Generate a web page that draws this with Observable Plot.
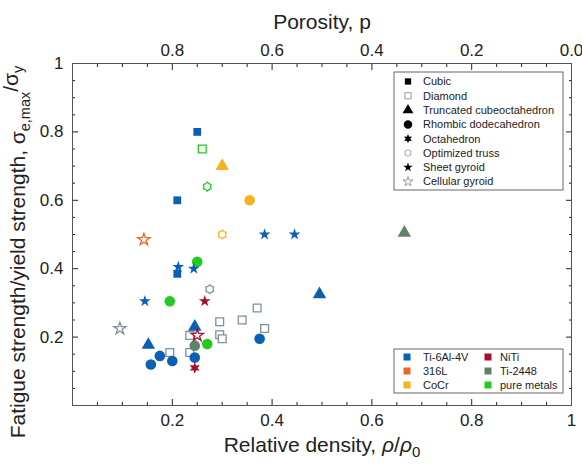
<!DOCTYPE html>
<html><head><meta charset="utf-8">
<script src="https://cdn.jsdelivr.net/npm/d3@7"></script>
<script src="https://cdn.jsdelivr.net/npm/@observablehq/plot@0.6"></script>
<style>body{margin:0;background:#fff;} #chart svg{font-family:"Liberation Sans",Arial,sans-serif;}</style>
</head><body><div id="chart"></div>
<script>
// ---- data ----
const structures = ["Cubic","Diamond","Truncated cubeoctahedron","Rhombic dodecahedron","Octahedron","Optimized truss","Sheet gyroid","Cellular gyroid"];
const materials = ["Ti-6Al-4V","316L","CoCr","NiTi","Ti-2448","pure metals"];
const materialColors = ["#0b5fb5","#e5682a","#f6b21c","#a5102d","#5f8466","#1fcc1f"];
const xMajor = [0.2,0.4,0.6,0.8,1];
const xMinor = [0.05,0.1,0.15,0.25,0.3,0.35,0.45,0.5,0.55,0.65,0.7,0.75,0.85,0.9,0.95];
const yMajor = [0.2,0.4,0.6,0.8,1];
const yMinor = [0.05,0.1,0.15,0.25,0.3,0.35,0.45,0.5,0.55,0.65,0.7,0.75,0.85,0.9,0.95];

const relDensity    = [0.25,0.21,0.21, 0.26,0.37,0.295,0.34,0.385,0.295,0.30,0.235,0.195,0.235, 0.30,0.495,0.665,0.245,0.152, 0.355,0.25,0.195,0.27,0.245,0.375,0.175,0.157,0.20,0.245, 0.245, 0.27,0.30,0.275, 0.385,0.445,0.212,0.243,0.145,0.265, 0.143,0.095,0.25];
const strengthRatio = [0.80,0.60,0.385, 0.75,0.285,0.245,0.25,0.225,0.207,0.195,0.205,0.155,0.155, 0.70,0.325,0.505,0.23,0.177, 0.60,0.42,0.305,0.18,0.175,0.195,0.145,0.12,0.13,0.14, 0.11, 0.64,0.50,0.34, 0.50,0.50,0.405,0.40,0.305,0.305, 0.485,0.225,0.205];
const pointStructure = ["Cubic","Cubic","Cubic",
 "Diamond","Diamond","Diamond","Diamond","Diamond","Diamond","Diamond","Diamond","Diamond","Diamond",
 "Truncated cubeoctahedron","Truncated cubeoctahedron","Truncated cubeoctahedron","Truncated cubeoctahedron","Truncated cubeoctahedron",
 "Rhombic dodecahedron","Rhombic dodecahedron","Rhombic dodecahedron","Rhombic dodecahedron","Rhombic dodecahedron","Rhombic dodecahedron","Rhombic dodecahedron","Rhombic dodecahedron","Rhombic dodecahedron","Rhombic dodecahedron",
 "Octahedron",
 "Optimized truss","Optimized truss","Optimized truss",
 "Sheet gyroid","Sheet gyroid","Sheet gyroid","Sheet gyroid","Sheet gyroid","Sheet gyroid",
 "Cellular gyroid","Cellular gyroid","Cellular gyroid"];
const pointMaterial = ["Ti-6Al-4V","Ti-6Al-4V","Ti-6Al-4V",
 "pure metals","Ti-6Al-4V","Ti-6Al-4V","Ti-6Al-4V","Ti-6Al-4V","Ti-6Al-4V","Ti-6Al-4V","Ti-6Al-4V","Ti-6Al-4V","Ti-6Al-4V",
 "CoCr","Ti-6Al-4V","Ti-2448","Ti-6Al-4V","Ti-6Al-4V",
 "CoCr","pure metals","pure metals","pure metals","Ti-2448","Ti-6Al-4V","Ti-6Al-4V","Ti-6Al-4V","Ti-6Al-4V","Ti-6Al-4V",
 "NiTi",
 "pure metals","CoCr","Ti-6Al-4V",
 "Ti-6Al-4V","Ti-6Al-4V","Ti-6Al-4V","Ti-6Al-4V","Ti-6Al-4V","NiTi",
 "316L","Ti-6Al-4V","NiTi"];

// ---- styles ----
const colorOf = Object.fromEntries(materials.map((m,i)=>[m, materialColors[i]]));
const hollowGray = "#7f909e";
const hexagram = {draw(ctx, size){ const R = Math.sqrt(size/Math.PI)*1.25, r = R*0.5;
  for(let i=0;i<12;i++){const a = -Math.PI/2 + i*Math.PI/6, rr = i%2? r:R; const px=rr*Math.cos(a), py=rr*Math.sin(a); i?ctx.lineTo(px,py):ctx.moveTo(px,py);} ctx.closePath(); }};
const flower = {draw(ctx, size){ const R = Math.sqrt(size/Math.PI);
  for(let i=0;i<24;i++){const a = -Math.PI/2 + i*Math.PI/12, rr = (i%4===0)? R*1.1 : (i%2? R*0.92: R*0.85); const px=rr*Math.cos(a), py=rr*Math.sin(a); i?ctx.lineTo(px,py):ctx.moveTo(px,py);} ctx.closePath(); }};
const symbolFor = {"Cubic": d3.symbolSquare, "Diamond": d3.symbolSquare, "Truncated cubeoctahedron": d3.symbolTriangle,
  "Rhombic dodecahedron": d3.symbolCircle, "Octahedron": hexagram, "Optimized truss": flower, "Sheet gyroid": d3.symbolStar, "Cellular gyroid": d3.symbolStar};
const rFor = {"Cubic":4.4, "Diamond":4.4, "Truncated cubeoctahedron":5.0, "Rhombic dodecahedron":5.3, "Octahedron":4.6, "Optimized truss":4.0, "Sheet gyroid":3.7, "Cellular gyroid":3.8};
const filled = new Set(["Cubic","Truncated cubeoctahedron","Rhombic dodecahedron","Octahedron","Sheet gyroid"]);

const data = relDensity.map((x,i)=>({x, y: strengthRatio[i], s: pointStructure[i], m: pointMaterial[i]}));
const fmt = d => d === 1 ? "1" : d.toFixed(1);
const blank = () => "";

const dotMarks = structures.map(s => Plot.dot(data.filter(d=>d.s===s), {
  x:"x", y:"y", symbol: symbolFor[s], r: rFor[s],
  fill: filled.has(s) ? (d=>colorOf[d.m]) : "white",
  stroke: filled.has(s) ? "none" : (d=> d.m==="Ti-6Al-4V" ? hollowGray : colorOf[d.m]),
  strokeWidth: 1.3
}));

const W = 582, H = 466;
const svg = Plot.plot({
  width: W, height: H,
  marginLeft: 72, marginRight: 11, marginTop: 63, marginBottom: 61,
  x: {domain:[0,1]}, y: {domain:[0,1]},
  color: {type:"identity"},
  style: {fontFamily:"Liberation Sans, Arial, sans-serif", fontSize:"17px", color:"#222", background:"white"},
  marks: [
    Plot.axisX({anchor:"bottom", ticks:xMajor, tickFormat:fmt, tickSize:-6, tickPadding:14, label:null}),
    Plot.axisX({anchor:"bottom", ticks:xMinor, tickFormat:blank, tickSize:-3, label:null}),
    Plot.axisX({anchor:"top", ticks:xMajor, tickFormat:d=>(1-d).toFixed(1), tickSize:-6, tickPadding:14, label:null}),
    Plot.axisX({anchor:"top", ticks:xMinor, tickFormat:blank, tickSize:-3, label:null}),
    Plot.axisY({anchor:"left", ticks:yMajor, tickFormat:fmt, tickSize:-6, tickPadding:15, label:null}),
    Plot.axisY({anchor:"left", ticks:yMinor, tickFormat:blank, tickSize:-3, label:null}),
    Plot.axisY({anchor:"right", ticks:yMajor, tickFormat:blank, tickSize:-6, label:null}),
    Plot.axisY({anchor:"right", ticks:yMinor, tickFormat:blank, tickSize:-3, label:null}),
    ...dotMarks,
    Plot.frame({stroke:"#555"})
  ]
});

const g = d3.select(svg);
// axis titles
g.append("text").attr("x", 322).attr("y", 29).attr("text-anchor","middle").attr("font-size",21).attr("fill","#222").text("Porosity, p");
const xt = g.append("text").attr("x", 322).attr("y", 452).attr("text-anchor","middle").attr("font-size",21).attr("fill","#222");
xt.append("tspan").text("Relative density, ");
xt.append("tspan").attr("font-style","italic").text("ρ");
xt.append("tspan").text("/");
xt.append("tspan").attr("font-style","italic").text("ρ");
xt.append("tspan").attr("font-size",15).attr("dy",5).text("0");
const yt = g.append("text").attr("transform","translate(25,252) rotate(-90)").attr("text-anchor","middle").attr("font-size",21).attr("fill","#222");
yt.append("tspan").text("Fatigue strength/yield strength, σ");
yt.append("tspan").attr("font-size",14.5).attr("dy",5).text("e,max");
yt.append("tspan").attr("dy",-12).text("/σ");
yt.append("tspan").attr("font-size",14.5).attr("dy",5).text("y");

// structure legend
const L1 = g.append("g").attr("font-size",11).attr("fill","#222").attr("text-anchor","start");
L1.append("rect").attr("x",394).attr("y",72).attr("width",169).attr("height",118).attr("fill","white").attr("stroke","#666");
structures.forEach((s,i) => {
  const cy = 81.5 + i*14.3;
  L1.append("path").attr("transform",`translate(408,${cy})`)
    .attr("d", d3.symbol().type(symbolFor[s]).size(Math.PI*(rFor[s]*0.8)**2)())
    .attr("fill", filled.has(s) ? "#000" : "white").attr("stroke", filled.has(s) ? "none" : "#999").attr("stroke-width",1);
  L1.append("text").attr("x",423).attr("y",cy).attr("dy","0.35em").attr("text-anchor","start").text(s);
});
// material legend
const L2 = g.append("g").attr("font-size",11).attr("fill","#222").attr("text-anchor","start");
L2.append("rect").attr("x",394).attr("y",349).attr("width",169).attr("height",44).attr("fill","white").attr("stroke","#666");
materials.forEach((m,i) => {
  const col = i < 3 ? 0 : 1, row = i % 3;
  const sx = col ? 488 : 407, tx = col ? 500 : 423, cy = 357 + row*14;
  L2.append("rect").attr("x",sx-3.5).attr("y",cy-3.5).attr("width",7).attr("height",7).attr("fill",colorOf[m]);
  L2.append("text").attr("x",tx).attr("y",cy).attr("dy","0.35em").attr("text-anchor","start").text(m);
});
document.getElementById("chart").appendChild(svg);
</script>
</body></html>
